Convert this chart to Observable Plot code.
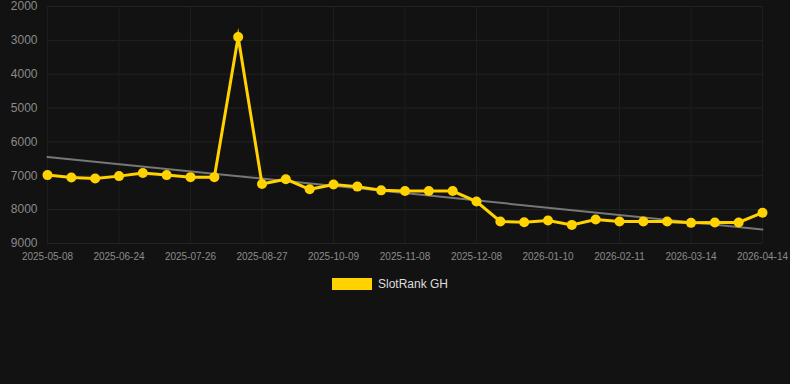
<!DOCTYPE html>
<html>
<head>
<meta charset="utf-8">
<script src="https://cdn.jsdelivr.net/npm/d3@7"></script>
<script src="https://cdn.jsdelivr.net/npm/@observablehq/plot@0.6"></script>
<style>
  html, body { margin: 0; padding: 0; background: #121212; }
  body { width: 790px; height: 384px; overflow: hidden; font-family: "Liberation Sans", Arial, sans-serif; }
  #legend { display: flex; justify-content: center; align-items: center; margin-top: 7px; padding-right: 10px; color: #dddddd; font-size: 12px; }
  #legend .sw { width: 40px; height: 12px; background: #FFD200; margin-right: 6px; }
</style>
</head>
<body>
<div id="chart"></div>
<div id="legend"><span class="sw"></span><span>SlotRank GH</span></div>
<script>
const dates = [
  "2025-05-08","2025-05-24","2025-06-08","2025-06-24","2025-07-05","2025-07-15",
  "2025-07-26","2025-08-06","2025-08-16","2025-08-27","2025-09-10","2025-09-24",
  "2025-10-09","2025-10-19","2025-10-29","2025-11-08","2025-11-18","2025-11-28",
  "2025-12-08","2025-12-19","2025-12-30","2026-01-10","2026-01-21","2026-01-31",
  "2026-02-11","2026-02-21","2026-03-03","2026-03-14","2026-03-24","2026-04-03",
  "2026-04-14"
];
const ranks = [
  6980, 7050, 7080, 7010, 6920, 6980, 7040, 7040, 2900, 7245, 7100, 7400,
  7260, 7320, 7430, 7450, 7450, 7450, 7760, 8350, 8370, 8320, 8450, 8290,
  8350, 8350, 8350, 8390, 8380, 8380, 8090
];
const yTicks = [2000, 3000, 4000, 5000, 6000, 7000, 8000, 9000];
const seriesName = "SlotRank GH";

const data = dates.map((d, i) => ({i, date: d, rank: ranks[i]}));
const xTicks = d3.range(0, dates.length, 3);

const chart = Plot.plot({
  width: 790,
  height: 270,
  marginTop: 6,
  marginBottom: 27,
  marginLeft: 47,
  marginRight: 28,
  style: {background: "#121212", fontFamily: "Liberation Sans, Arial, sans-serif"},
  x: {type: "linear", domain: [0, dates.length - 1]},
  y: {domain: [2000, 9000], reverse: true},
  marks: [
    Plot.gridY(yTicks, {stroke: "#232323", strokeOpacity: 1}),
    Plot.gridX(xTicks, {stroke: "#1d1d1d", strokeOpacity: 1}),
    Plot.axisY({ticks: yTicks, tickFormat: d => String(d), tickSize: 0, tickPadding: 10, fontSize: 12, fill: "#8a8a8a", label: null}),
    Plot.axisX({ticks: xTicks, tickFormat: i => dates[i], tickSize: 0, tickPadding: 9, fontSize: 10, fill: "#8a8a8a", label: null}),
    Plot.linearRegressionY(data, {x: "i", y: "rank", ci: 0, stroke: "#777777", strokeWidth: 2}),
    Plot.line(data, {x: "i", y: "rank", stroke: "#FFD200", strokeWidth: 3, strokeLinejoin: "miter", strokeMiterlimit: 10}),
    Plot.dot(data, {x: "i", y: "rank", r: 5, fill: "#FFD200", stroke: null})
  ]
});
document.getElementById("chart").appendChild(chart);
document.querySelector("#legend span:last-child").textContent = seriesName;
</script>
</body>
</html>
